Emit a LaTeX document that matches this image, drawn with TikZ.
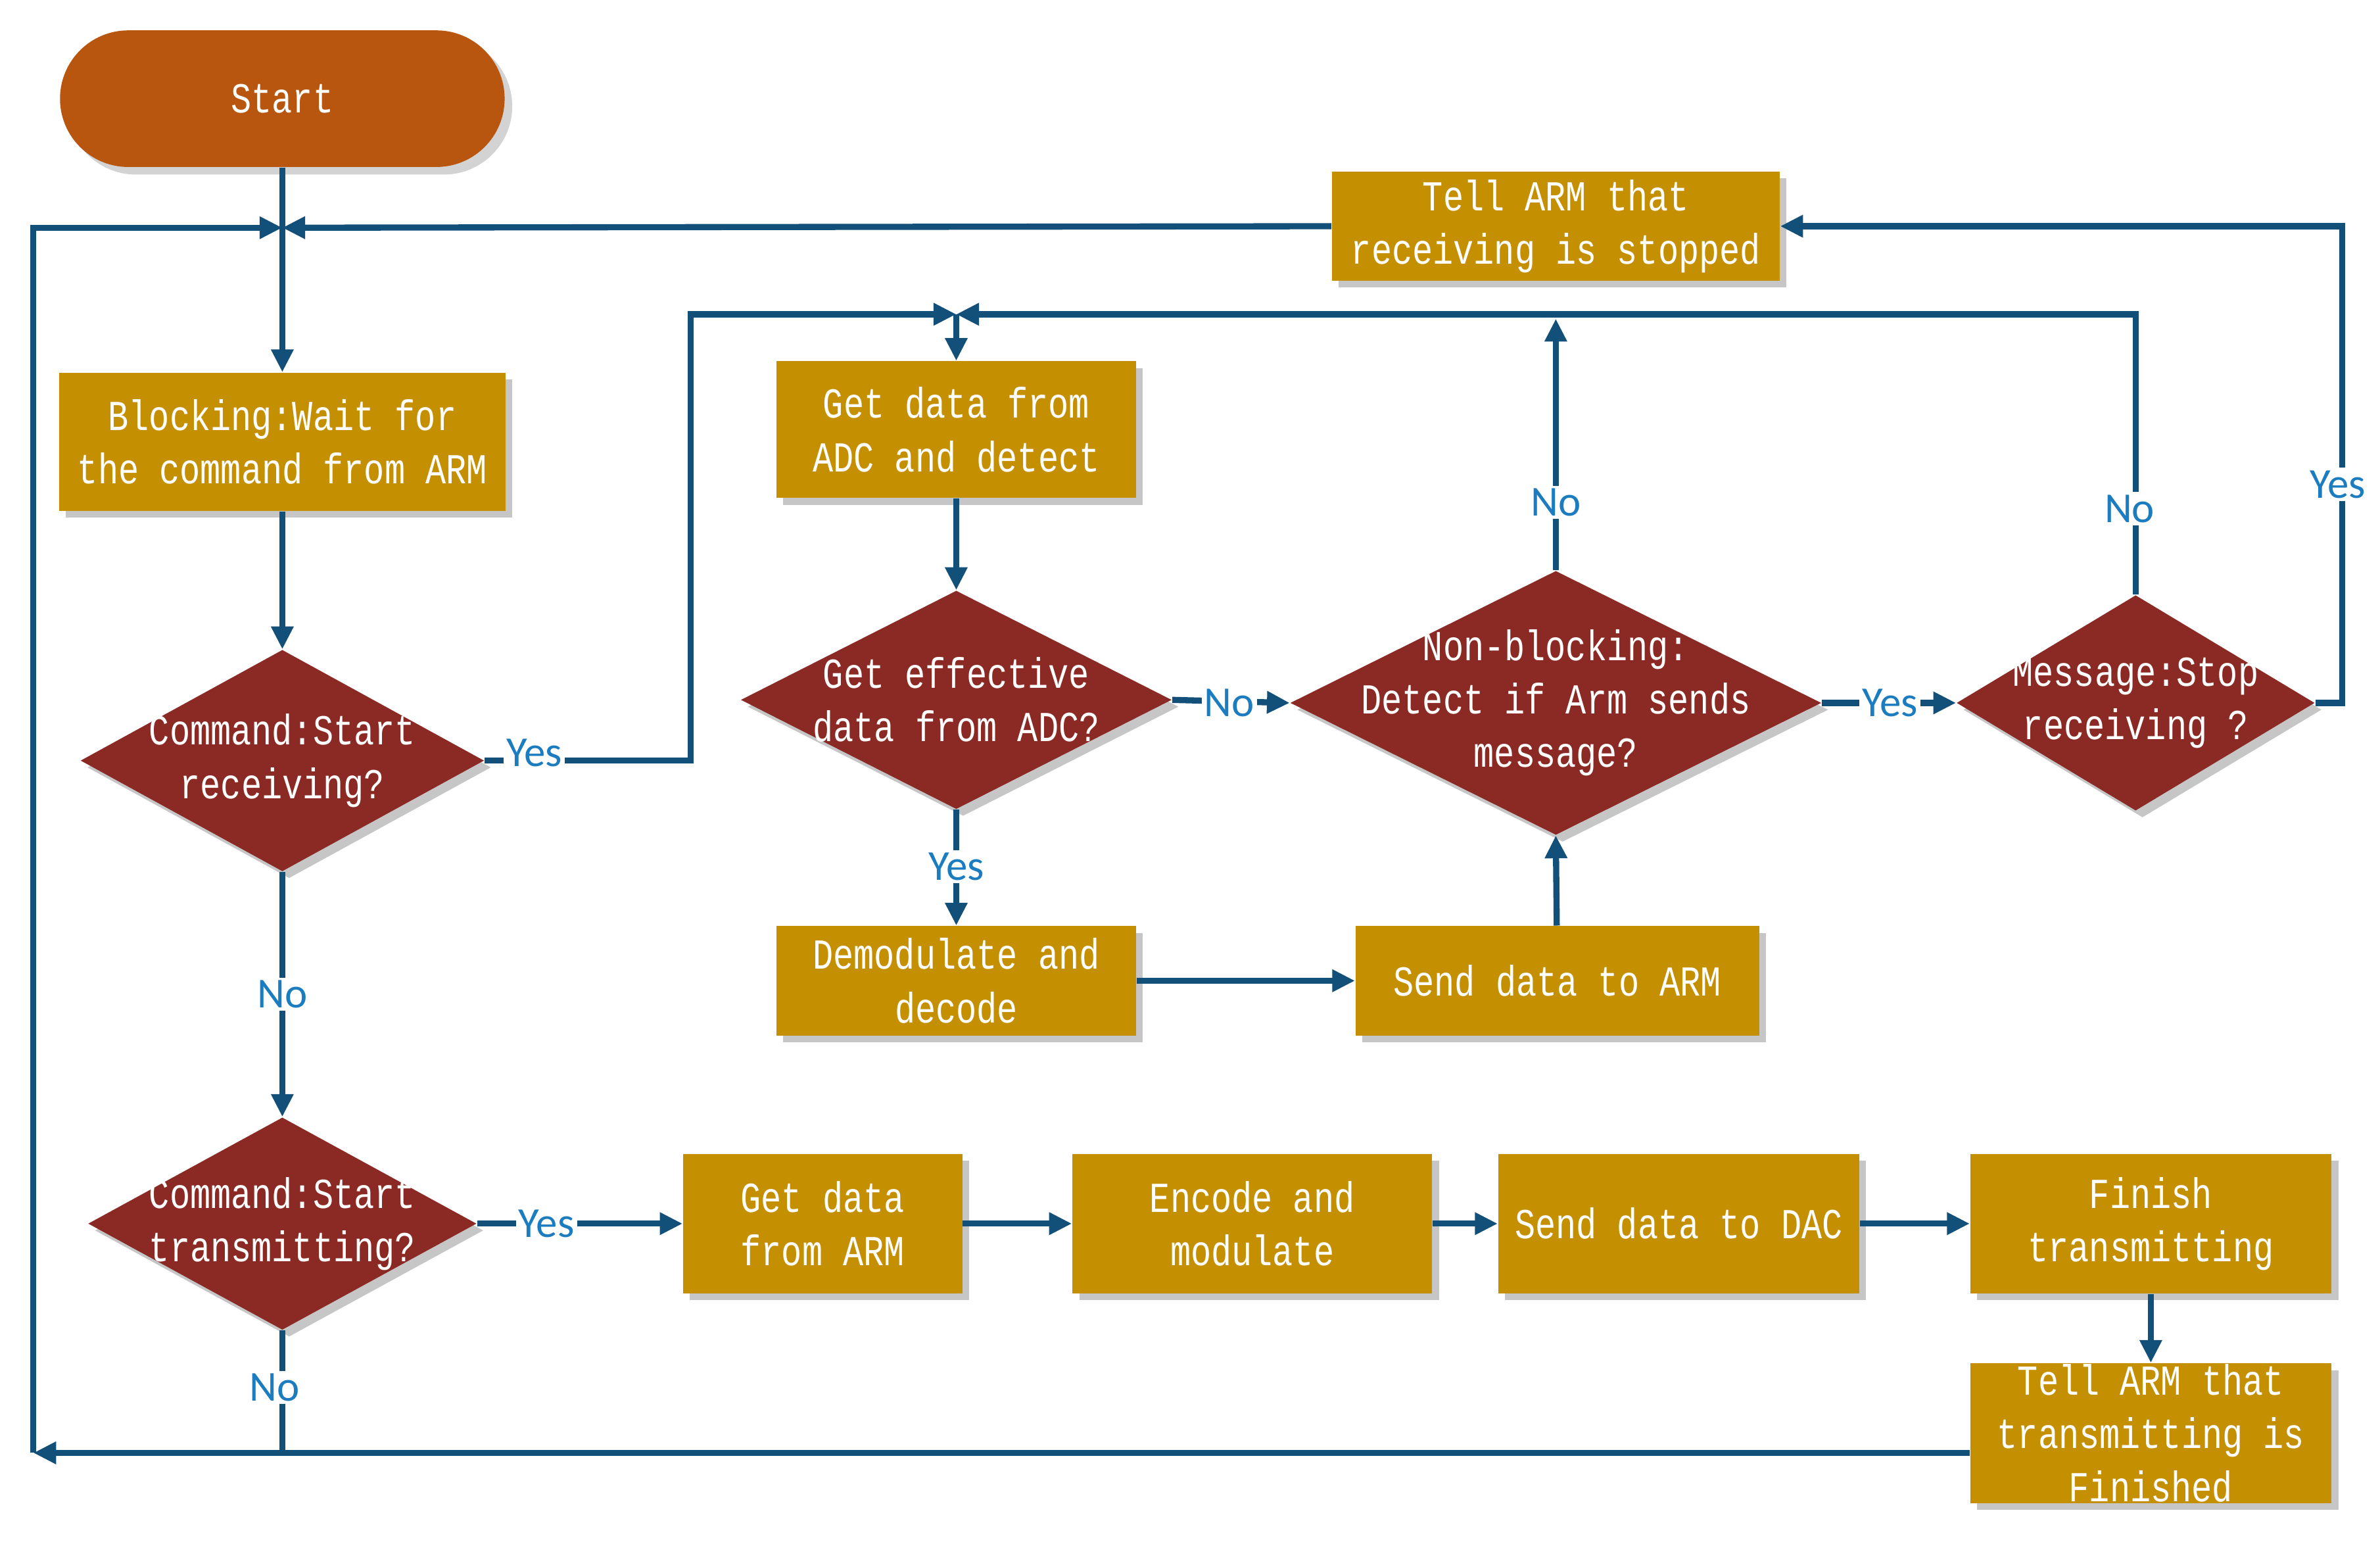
\documentclass[tikz,border=0pt]{standalone}
\usepackage{fontspec}
\setmainfont{Liberation Serif}
\newfontfamily\boxfont{Liberation Mono}[FakeStretch=0.8]
\newfontfamily\lblfont{Carlito}
\usetikzlibrary{shapes.geometric,arrows.meta,shadows}
\definecolor{startc}{HTML}{B8560F}
\definecolor{boxc}{HTML}{C48F00}
\definecolor{diac}{HTML}{8B2A24}
\definecolor{linec}{HTML}{12507A}
\definecolor{lblc}{HTML}{1C7CC0}
\begin{document}
\begin{tikzpicture}[x=0.02cm,y=-0.02cm,
  shd/.style={drop shadow={shadow xshift=0.09cm,shadow yshift=-0.09cm,opacity=.45,fill=gray}},
  box/.style={rectangle,fill=boxc,text=white,font=\boxfont\fontsize{16}{20}\selectfont,align=center,inner sep=0pt,shd},
  dia/.style={diamond,fill=diac,inner sep=0pt,shd},
  dtxt/.style={text=white,font=\boxfont\fontsize{16}{20}\selectfont,align=center,inner sep=0pt},
  ln/.style={draw=linec,line width=2.3pt},
  ar/.style={ln,-{Triangle[length=0.3cm,width=0.28cm]}},
  lb/.style={fill=white,text=lblc,font=\lblfont\fontsize{16}{18}\selectfont,inner sep=1pt}]
\useasboundingbox (0,0) rectangle (1568,1017);
% nodes
\node[rounded corners=0.9cm,fill=startc,text=white,font=\boxfont\fontsize{16}{20}\selectfont,minimum width=5.86cm,minimum height=1.8cm,drop shadow={shadow xshift=0.1cm,shadow yshift=-0.1cm,opacity=.35,fill=gray}] (start) at (186,65) {Start};
\node[box,minimum width=5.9cm,minimum height=1.44cm] (tellr) at (1025,149) {Tell ARM that\\receiving is stopped};
\node[box,minimum width=5.88cm,minimum height=1.82cm] (block) at (186,291) {Blocking:Wait for\\the command from ARM};
\node[dia,minimum width=5.32cm,minimum height=2.92cm] (cr) at (186,501) {};
\node[dtxt] at (186,501) {Command:Start\\receiving?};
\node[box,minimum width=4.74cm,minimum height=1.8cm] (adc) at (630,283) {Get data from\\ADC and detect};
\node[dia,minimum width=5.68cm,minimum height=2.88cm] (eff) at (630,461) {};
\node[dtxt] at (630,461) {Get effective\\data from ADC?};
\node[dia,minimum width=7cm,minimum height=3.48cm] (nb) at (1025,463) {};
\node[dtxt] at (1025,463) {Non-blocking:\\Detect if Arm sends\\message?};
\node[dia,minimum width=4.72cm,minimum height=2.84cm] (ms) at (1407,463) {};
\node[dtxt] at (1407,463) {Message:Stop\\receiving ?};
\node[box,minimum width=4.74cm,minimum height=1.44cm] (dem) at (630,646) {Demodulate and\\decode};
\node[box,minimum width=5.32cm,minimum height=1.44cm] (sda) at (1026,646) {Send data to ARM};
\node[dia,minimum width=5.12cm,minimum height=2.8cm] (ct) at (186,806) {};
\node[dtxt] at (186,806) {Command:Start\\transmitting?};
\node[box,minimum width=3.68cm,minimum height=1.84cm] (gda) at (542,806) {Get data\\from ARM};
\node[box,minimum width=4.74cm,minimum height=1.84cm] (enc) at (825,806) {Encode and\\modulate};
\node[box,minimum width=4.76cm,minimum height=1.84cm] (sdd) at (1106,806) {Send data to DAC};
\node[box,minimum width=4.76cm,minimum height=1.84cm] (fin) at (1417,806) {Finish\\transmitting};
\node[box,minimum width=4.76cm,minimum height=1.84cm] (tellt) at (1417,944) {Tell ARM that\\transmitting is\\Finished};
\coordinate (j1) at (186,150);
\coordinate (j2) at (630,207);
\coordinate (bl) at (22,957);
% connectors
\draw[ln] (start) -- (j1);
\draw[ar] (j1) -- (block);
\draw[ar] (tellr.west) -- (j1);
\draw[ar] (bl) |- (j1);
\draw[ar] (tellt.west|-bl) -- (bl);
\draw[ln] (ct.south) -- (186,957);
\node[lb] at (181,914) {No};
\draw[ar] (block) -- (cr.north);
\draw[ar] (cr.east) -- (455,501) |- (j2);
\node[lb] at (352,496) {Yes};
\draw[ar] (cr.south) -- (ct.north);
\node[lb] at (186,655) {No};
\draw[ar] (j2) -- (adc);
\draw[ar] (adc) -- (eff.north);
\draw[ar] (eff.east) -- (nb.west);
\node[lb] at (810,463) {No};
\draw[ar] (eff.south) -- (dem);
\node[lb] at (630,571) {Yes};
\draw[ar] (dem) -- (sda);
\draw[ar] (sda) -- (nb.south);
\draw[ar] (nb.north) -- (1025,210);
\node[lb] at (1025,331) {No};
\draw[ar] (nb.east) -- (ms.west);
\node[lb] at (1245,463) {Yes};
\draw[ar] (ms.north) |- (j2);
\node[lb] at (1403,335) {No};
\draw[ar] (ms.east) -- (1543,463) |- (tellr.east);
\node[lb] at (1540,319) {Yes};
\draw[ar] (ct.east) -- (gda);
\node[lb] at (360,806) {Yes};
\draw[ar] (gda) -- (enc);
\draw[ar] (enc) -- (sdd);
\draw[ar] (sdd) -- (fin);
\draw[ar] (fin) -- (tellt);
\end{tikzpicture}
\end{document}
